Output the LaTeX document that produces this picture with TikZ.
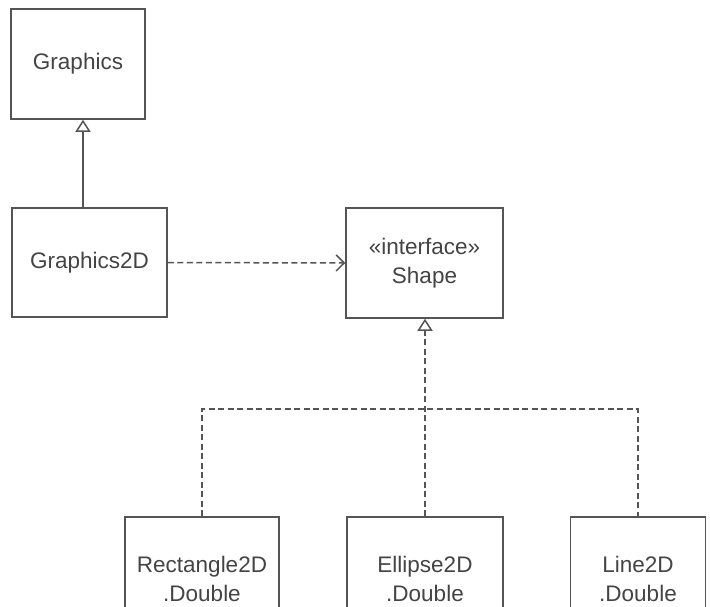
\documentclass[tikz,border=0pt]{standalone}
\usepackage{fontspec}
\setmainfont{Liberation Sans}
\usetikzlibrary{arrows.meta}
\definecolor{ln}{HTML}{555555}
\definecolor{tx}{HTML}{444444}
\begin{document}
\begin{tikzpicture}[x=1pt,y=-1pt,
  box/.style={draw=ln, line width=1.5pt, text=tx, align=center, inner sep=0pt,
    font=\fontsize{22.5}{29}\selectfont},
  inh/.style={draw=ln, line width=1.5pt, -{Triangle[open, length=12pt, width=15pt, fill=white]}},
  dsh/.style={dash pattern=on 6pt off 3.5pt},
  real/.style={inh, dsh},
  dep/.style={draw=ln, line width=1.5pt, dsh, -{Straight Barb[length=8pt, width=16pt]}},
  tree/.style={draw=ln, line width=1.5pt, dsh}]
\fill[white] (0,0) rectangle (710,606);
\clip (0,0) rectangle (710,606);
\node[box, minimum width=134pt, minimum height=110pt] (g) at (78,64) {Graphics};
\node[box, minimum width=155pt, minimum height=109pt] (g2d) at (89.5,262.5) {Graphics2D};
\node[box, minimum width=157pt, minimum height=110pt] (shape) at (424.5,263) {«interface»\\Shape};
\node[box, minimum width=154pt, minimum height=124pt] (rect) at (202,579) {Rectangle2D\\.Double};
\node[box, minimum width=156pt, minimum height=124pt] (ell) at (425,579) {Ellipse2D\\.Double};
\node[box, minimum width=135pt, minimum height=124pt] (lin) at (638,579) {Line2D\\.Double};
\coordinate (j) at (424.5,409);
\draw[inh] ([xshift=-6.5pt]g2d.north) -- ([xshift=-6.5pt]g2d.north |- g.south);
\draw[dep] (g2d.east) -- (shape.west);
\draw[tree] (rect.north) -- (rect.north |- j) -- (lin.north |- j) -- (lin.north);
\draw[real] (ell.north) -- (ell.north |- shape.south);
\end{tikzpicture}
\end{document}
